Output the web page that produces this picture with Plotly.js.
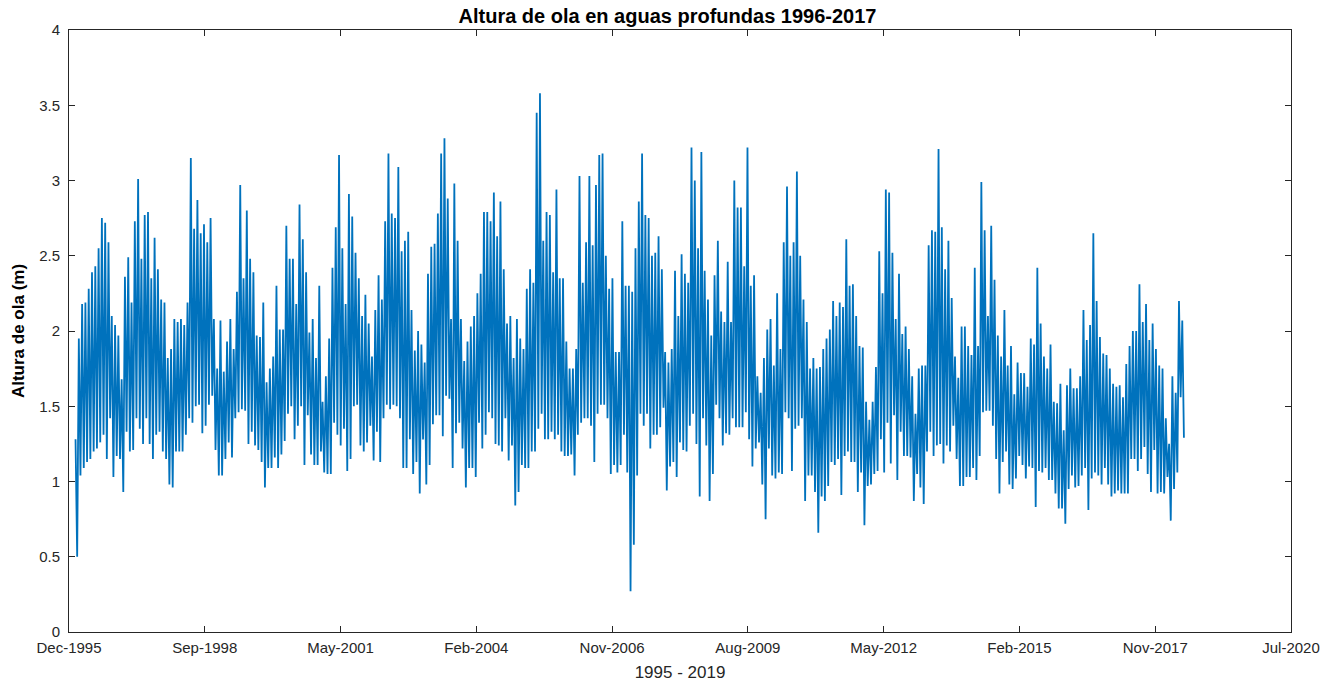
<!DOCTYPE html>
<html>
<head>
<meta charset="utf-8">
<script src="https://cdn.plot.ly/plotly-3.0.1.min.js"></script>
<style>
html,body{margin:0;padding:0;background:#fff;}
#chart{width:1335px;height:682px;}
</style>
</head>
<body>
<div id="chart"></div>
<script>
// Series start and sampling interval (two samples per ~24-day window: local high, local low)
var seriesStart = '1996-01-01';
var sampleDays = 12.1;

// Local highs of wave height (m), in time order
var hmax = [
1.28,1.95,2.18,2.19,2.28,2.39,2.43,2.55,2.75,2.72,2.59,2.10,2.04,1.97,1.68,2.36,2.49,2.19,2.73,3.01,2.48,2.77,2.79,2.35,2.62,2.41,2.21,2.19,1.82,1.88,2.08,2.06,
2.08,2.04,2.19,3.15,2.68,2.87,2.65,2.71,2.59,2.75,2.08,1.75,2.07,1.73,1.93,2.08,1.88,2.26,2.97,2.35,2.80,2.48,2.39,1.97,1.96,2.19,1.66,1.75,1.83,2.30,2.01,2.01,2.70,2.48,
2.48,2.18,2.84,2.61,2.39,1.99,2.08,1.82,2.30,1.53,1.70,1.95,2.42,2.69,3.17,2.55,2.18,2.91,2.76,2.52,2.35,2.10,2.24,2.05,1.83,2.14,2.37,2.21,2.73,3.18,2.78,2.75,3.09,2.53,
2.60,2.66,2.14,1.87,2.00,1.91,1.79,2.38,2.56,2.58,2.78,3.18,3.28,2.88,2.08,2.98,2.60,2.08,1.80,1.93,2.03,2.10,2.25,2.38,2.79,2.79,2.73,2.92,2.63,2.86,2.41,2.05,2.10,1.82,
2.08,1.95,1.88,2.28,2.41,2.32,3.45,3.58,2.60,2.79,2.77,2.39,2.94,2.35,2.35,1.93,1.75,1.75,1.88,3.03,2.32,2.59,3.03,2.57,2.97,3.17,3.18,2.50,2.28,2.35,1.86,1.86,2.73,2.30,
2.30,2.26,2.55,2.86,3.18,2.77,2.75,2.50,2.52,2.63,2.41,1.86,1.79,1.88,2.40,2.10,2.51,2.38,2.32,3.22,3.00,2.55,3.19,2.40,2.21,1.97,2.37,2.60,2.13,2.06,2.46,2.06,3.00,2.82,
2.82,2.43,3.22,2.30,2.37,1.70,1.59,1.82,2.01,2.08,1.77,2.25,1.88,2.59,2.96,2.50,2.59,3.06,2.50,2.21,2.06,1.75,1.82,1.75,1.76,1.88,1.95,2.01,2.20,2.10,2.19,2.16,2.61,2.30,
2.31,2.10,1.90,1.89,1.53,1.41,1.53,1.76,2.53,2.25,2.94,2.92,2.52,2.08,2.38,1.98,2.03,1.88,1.70,1.45,1.75,1.77,1.77,2.57,2.67,2.66,3.21,2.69,2.41,2.60,2.22,1.83,1.69,2.03,
2.03,1.90,1.84,2.42,1.90,2.99,2.67,2.10,2.70,2.34,1.97,1.83,2.14,1.77,1.90,1.58,1.79,1.72,1.72,1.63,1.95,1.91,2.42,2.05,1.83,1.75,1.91,1.53,1.52,1.65,1.34,1.64,1.75,1.62,
1.62,1.70,2.14,1.94,2.04,2.65,2.20,1.96,1.85,1.84,1.75,1.65,1.63,1.64,1.56,1.78,1.90,2.00,2.00,2.31,2.06,2.18,1.94,2.05,1.88,1.77,1.75,1.42,1.25,1.70,1.59,2.20,2.07
];

// Local lows of wave height (m), in time order
var hmin = [
0.50,1.04,1.09,1.13,1.15,1.20,1.22,1.26,1.31,1.15,1.42,1.03,1.17,1.15,0.93,1.33,1.20,1.21,1.42,1.35,1.25,1.42,1.25,1.15,1.31,1.33,1.20,1.15,0.98,0.96,1.20,1.20,
1.20,1.31,1.42,1.39,1.50,1.51,1.32,1.37,1.51,1.57,1.21,1.04,1.04,1.15,1.26,1.16,1.42,1.46,1.48,1.47,1.25,1.33,1.24,1.21,1.13,0.96,1.09,1.09,1.16,1.09,1.18,1.27,1.45,1.50,
1.28,1.37,1.50,1.11,1.44,1.18,1.11,1.11,1.20,1.06,1.05,1.05,1.39,1.31,1.24,1.35,1.07,1.15,1.50,1.51,1.24,1.20,1.26,1.37,1.14,1.33,1.13,1.42,1.51,1.48,1.51,1.50,1.42,1.09,
1.09,1.28,1.05,1.13,0.92,1.28,0.98,1.11,1.38,1.44,1.44,1.30,1.57,1.55,1.09,1.32,1.39,1.22,0.96,1.09,1.09,1.03,1.39,1.22,1.31,1.46,1.42,1.25,1.24,1.20,1.42,1.14,1.24,0.84,
0.93,1.11,1.09,1.09,1.20,1.20,1.35,1.45,1.28,1.28,1.33,1.28,1.31,1.20,1.17,1.17,1.18,1.04,1.31,1.39,1.42,1.42,1.37,1.13,1.45,1.51,1.51,1.42,1.05,1.11,1.06,1.11,1.31,1.06,
0.27,0.58,1.04,1.45,1.37,1.45,1.22,1.31,1.31,1.36,1.49,0.94,1.10,1.13,1.03,1.26,1.21,1.20,1.37,1.45,1.25,0.90,1.42,1.24,0.87,1.05,1.51,1.42,1.24,1.32,1.31,1.42,1.36,1.36,
1.36,1.46,1.28,1.10,1.22,1.26,0.98,0.75,1.22,1.04,1.02,1.06,1.05,1.46,1.42,1.07,1.35,1.37,1.42,0.87,1.04,1.04,0.93,0.66,0.90,0.87,0.97,1.13,1.11,1.15,0.91,1.17,1.20,1.13,
1.13,0.93,1.06,0.71,0.97,0.98,1.05,1.07,1.28,1.06,1.39,1.12,1.44,1.01,1.33,1.17,1.17,1.16,0.87,1.05,0.96,0.85,1.20,1.33,1.17,1.24,1.25,1.12,1.24,1.20,1.37,1.15,0.97,0.97,
1.03,1.03,1.09,1.01,1.17,1.46,1.47,1.47,1.37,1.15,0.92,1.13,1.20,0.98,0.95,1.02,1.17,1.11,1.02,1.10,1.09,0.83,1.07,1.06,1.09,1.01,1.01,0.92,0.82,0.82,0.72,0.95,1.04,0.96,
0.97,1.04,1.09,0.81,1.02,1.06,1.04,0.98,1.09,0.98,0.90,0.92,0.94,0.92,0.92,0.92,1.15,1.15,1.07,1.15,1.23,1.05,0.93,1.21,0.92,0.93,0.92,1.03,0.74,0.95,1.06,1.56,1.29
];

// Axis
var axisStart = '1995-11-14';
var axisSpanDays = 8978;
var tickLabels = ['Dec-1995','Sep-1998','May-2001','Feb-2004','Nov-2006','Aug-2009','May-2012','Feb-2015','Nov-2017','Jul-2020'];
var yTicks = [0,0.5,1,1.5,2,2.5,3,3.5,4];

var DAY = 86400000;
function isoT(ms){ return new Date(ms).toISOString().replace('Z',''); }

var t0 = Date.parse(seriesStart + 'T00:00:00Z');
var xs = [], ys = [];
var n = Math.min(hmax.length, hmin.length);
for (var i = 0; i < n; i++) {
  xs.push(isoT(t0 + (2*i) * sampleDays * DAY)); ys.push(hmax[i]);
  xs.push(isoT(t0 + (2*i+1) * sampleDays * DAY)); ys.push(hmin[i]);
}

var a0 = Date.parse(axisStart + 'T00:00:00Z');
var a1 = a0 + axisSpanDays * DAY;
var tickvals = tickLabels.map(function(_, k){ return isoT(a0 + k * axisSpanDays / (tickLabels.length - 1) * DAY); });

var FONT = 'Liberation Sans, Arial, Helvetica, sans-serif';
var AX = '#262626';

var trace = {
  x: xs, y: ys, type: 'scatter', mode: 'lines',
  line: {color: '#0072BD', width: 1.8},
  hoverinfo: 'x+y'
};

var layout = {
  width: 1335, height: 682,
  margin: {l: 69, r: 44, t: 30, b: 50, pad: 0},
  paper_bgcolor: '#ffffff', plot_bgcolor: '#ffffff',
  showlegend: false,
  font: {family: FONT, color: AX, size: 15},
  title: {
    text: '<b>Altura de ola en aguas profundas 1996-2017</b>',
    font: {family: FONT, size: 20, color: '#000000'},
    xref: 'container', x: 0.5, xanchor: 'center',
    yref: 'container', y: 1 - 16/682, yanchor: 'middle'
  },
  xaxis: {
    type: 'date',
    range: [isoT(a0), isoT(a1)],
    tickmode: 'array', tickvals: tickvals, ticktext: tickLabels,
    ticks: 'inside', ticklen: 6, tickwidth: 1, tickcolor: AX,
    showline: true, linecolor: AX, linewidth: 1, mirror: 'ticks',
    showgrid: false, zeroline: false,
    tickfont: {family: FONT, size: 15, color: AX},
    ticklabelstandoff: 2,
    title: {text: '1995 - 2019', font: {family: FONT, size: 17, color: AX}, standoff: 12}
  },
  yaxis: {
    range: [0, 4],
    tickmode: 'array', tickvals: yTicks,
    ticks: 'inside', ticklen: 6, tickwidth: 1, tickcolor: AX,
    showline: true, linecolor: AX, linewidth: 1, mirror: 'ticks',
    showgrid: false, zeroline: false,
    tickfont: {family: FONT, size: 15, color: AX},
    ticklabelstandoff: 5,
    title: {text: '<b>Altura de ola (m)</b>', font: {family: FONT, size: 17, color: '#000000'}, standoff: 10}
  }
};

Plotly.newPlot('chart', [trace], layout, {displayModeBar: false, responsive: false});
</script>
</body>
</html>
